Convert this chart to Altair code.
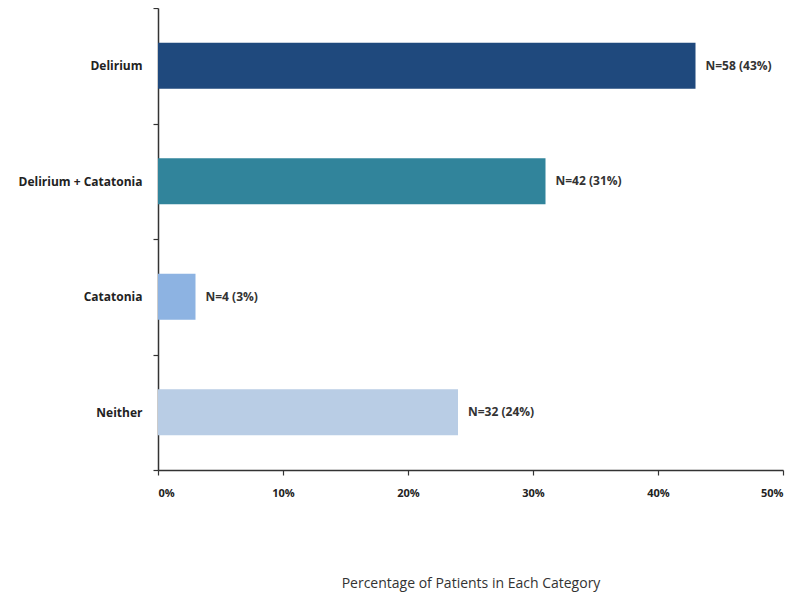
import altair as alt
import pandas as pd

categories = ["Delirium", "Delirium + Catatonia", "Catatonia", "Neither"]
percents = [43, 31, 3, 24]
counts = [58, 42, 4, 32]
colors = ["#1F497D", "#31849B", "#8DB3E2", "#B9CDE5"]

df = pd.DataFrame({
    "category": categories,
    "pct": [p / 100 for p in percents],
    "label": [f"N={n} ({p}%)" for n, p in zip(counts, percents)],
})

FONT = "Open Sans"

y = alt.Y("category:N", sort=categories, title=None,
          scale=alt.Scale(paddingInner=0, paddingOuter=0),
          axis=alt.Axis(tickBand="extent", labelFont=FONT, labelFontSize=12,
                        labelFontWeight="bold", labelColor="#222222",
                        labelPadding=11, tickSize=5, tickColor="#333333",
                        domainColor="#333333", domainWidth=1.5, tickWidth=1.2))

x = alt.X("pct:Q", title="Percentage of Patients in Each Category",
          scale=alt.Scale(domain=[0, 0.5], nice=False),
          axis=alt.Axis(format=".0%", values=[0, 0.1, 0.2, 0.3, 0.4, 0.5],
                        grid=False, labelFont=FONT, labelFontSize=11,
                        labelFontWeight="bold", labelColor="#222222",
                        labelPadding=12, tickSize=5, tickColor="#333333",
                        domainColor="#333333", domainWidth=1.5, tickWidth=1.2,
                        titleFont=FONT, titleFontSize=14, titleFontWeight="normal",
                        titleColor="#333333", titlePadding=78))

bars = alt.Chart(df).mark_bar(height=alt.RelativeBandSize(0.4)).encode(
    x=x, y=y,
    color=alt.Color("category:N", scale=alt.Scale(domain=categories, range=colors), legend=None),
)

text = alt.Chart(df).mark_text(align="left", dx=10, font=FONT, fontSize=12,
                               fontWeight="bold", color="#333333").encode(
    x="pct:Q", y=alt.Y("category:N", sort=categories), text="label:N"
)

chart = (bars + text).properties(
    width=625, height=462,
    background="white",
    autosize=alt.AutoSizeParams(type="none"),
    padding={"left": 150, "top": 0, "right": 8, "bottom": 128},
).configure_view(stroke=None)

chart.save("out.html", embed_options={"renderer": "svg", "actions": False})
